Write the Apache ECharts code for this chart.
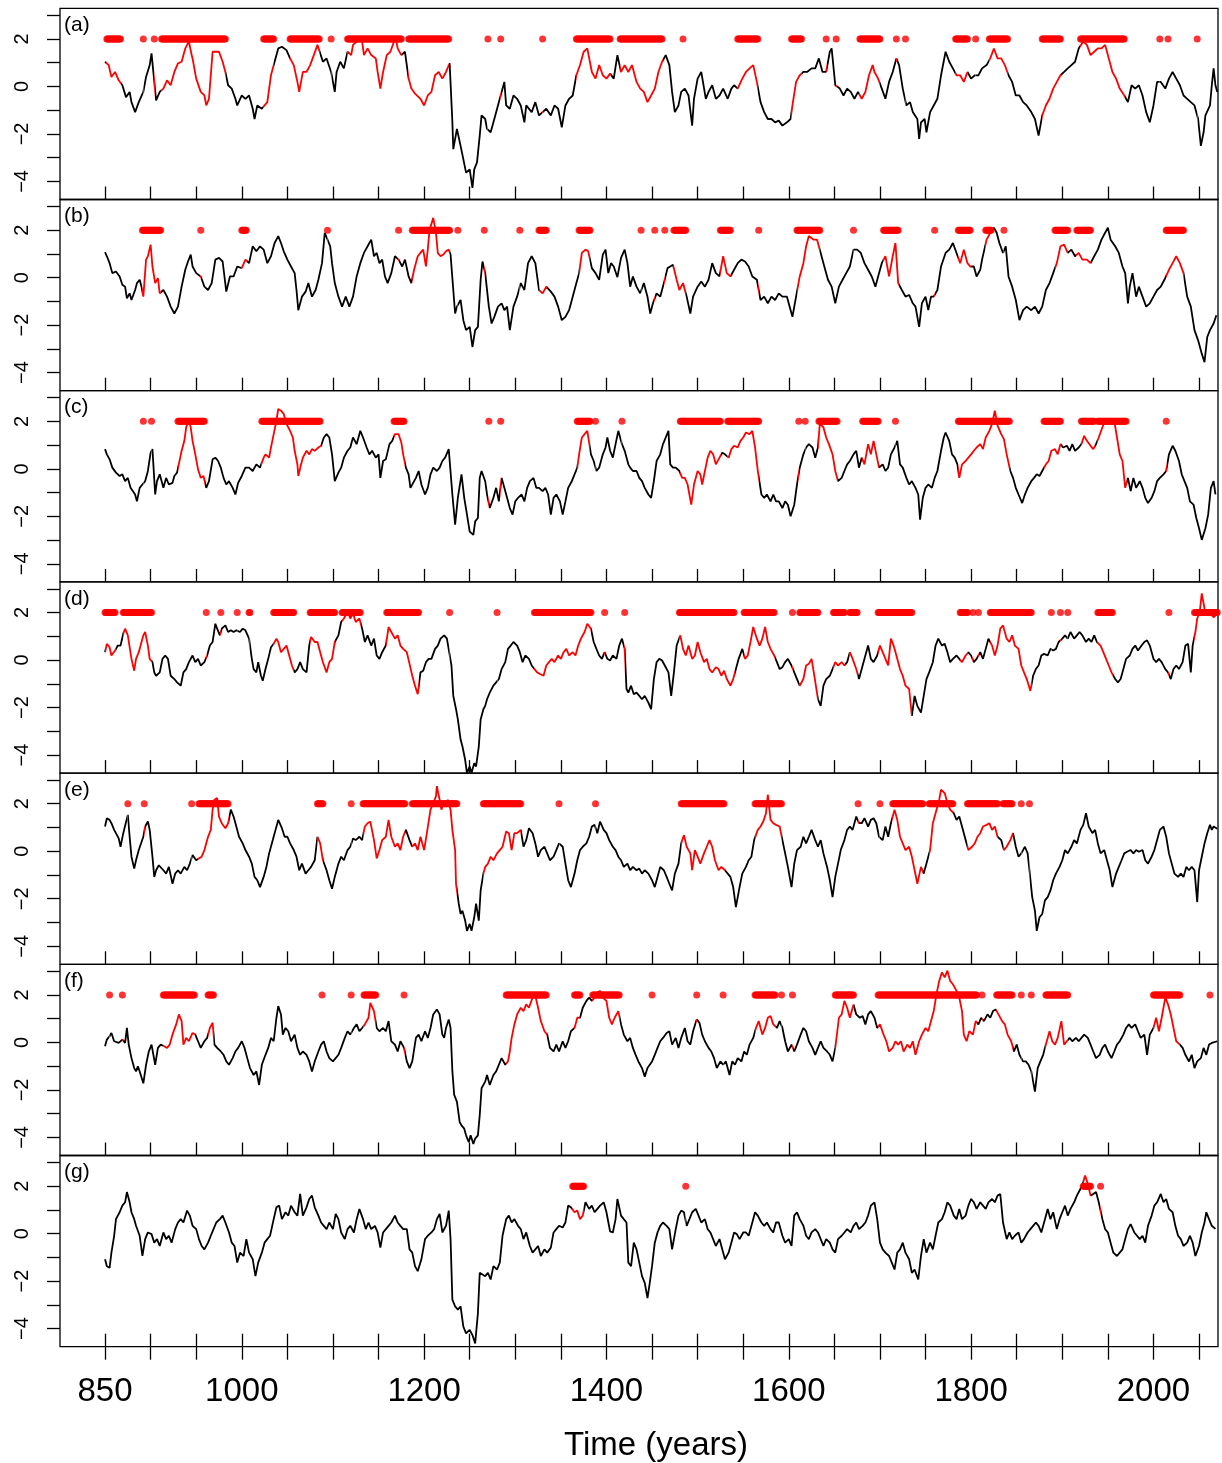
<!DOCTYPE html>
<html>
<head>
<meta charset="utf-8">
<script src="https://cdn.jsdelivr.net/npm/echarts@6/dist/echarts.min.js"></script>
<style>
  html, body { margin: 0; padding: 0; background: #fff; }
  #chart { width: 1222px; height: 1463px; }
</style>
</head>
<body>
<div id="chart"></div>
<script>
// x ticks / labels
var xTicks = [850, 900, 950, 1000, 1050, 1100, 1150, 1200, 1250, 1300, 1350, 1400, 1450, 1500, 1550, 1600, 1650, 1700, 1750, 1800, 1850, 1900, 1950, 2000, 2050];
var xLabels = [850, 1000, 1200, 1400, 1600, 1800, 2000];
var yTicks = [-4, -3, -2, -1, 0, 1, 2, 3];
var yLabels = [-4, -2, 0, 2];
var panelNames = ['(a)', '(b)', '(c)', '(d)', '(e)', '(f)', '(g)'];

// [year, value]
var seriesA = [[850,1.04],[854,0.9],[857,0.4],[861,0.61],[865,0.26],[869,0.05],[873,-0.45],[877,-0.23],[879,-0.66],[883,-1.08],[887,-0.66],[892,-0.23],[895,0.4],[899,0.9],[901,1.39],[903,0.61],[906,-0.59],[910,-0.23],[914,-0.09],[918,0.26],[922,0.05],[926,0.61],[930,0.97],[934,1.04],[938,1.6],[942,1.89],[945,1.32],[946,1.18],[950,0.33],[955,-0.23],[959,-0.38],[961,-0.8],[964,-0.52],[968,1.46],[971,1.46],[975,1.46],[979,1.04],[982,0.61],[985,0.05],[989,-0.09],[993,-0.52],[995,-0.8],[1000,-0.38],[1004,-0.52],[1008,-0.38],[1012,-0.94],[1014,-1.37],[1017,-0.8],[1022,-0.94],[1025,-0.8],[1028,-0.66],[1032,0.47],[1036,1.04],[1040,1.6],[1044,1.67],[1049,1.53],[1053,1.18],[1057,0.9],[1061,0.19],[1063,-0.23],[1067,0.61],[1071,0.61],[1075,0.9],[1079,1.32],[1083,1.75],[1085,1.75],[1089,1.04],[1093,1.18],[1098,0.61],[1102,-0.23],[1104,0.61],[1108,1.04],[1112,0.76],[1116,1.46],[1120,1.32],[1122,1.75],[1126,1.89],[1129,2.03],[1132,1.89],[1134,1.32],[1138,1.6],[1142,1.32],[1147,1.18],[1149,0.61],[1152,-0.09],[1155,0.61],[1159,1.32],[1163,1.46],[1167,1.89],[1169,2.03],[1171,1.6],[1175,1.32],[1179,1.46],[1183,0.33],[1186,-0.09],[1190,-0.3],[1196,-0.52],[1200,-0.8],[1204,-0.38],[1208,-0.23],[1212,0.47],[1216,0.61],[1220,0.33],[1224,0.61],[1228,0.97],[1231,-1.51],[1232,-2.64],[1236,-1.79],[1240,-2.5],[1243,-3.06],[1246,-3.63],[1250,-3.49],[1253,-4.27],[1255,-3.49],[1258,-3.2],[1261,-2.07],[1263,-1.22],[1267,-1.37],[1269,-1.79],[1273,-1.93],[1277,-1.37],[1281,-0.8],[1285,-0.23],[1288,0.19],[1290,-0.8],[1294,-0.94],[1298,-0.38],[1302,-0.52],[1306,-0.8],[1310,-1.51],[1312,-0.8],[1318,-1.08],[1322,-0.66],[1326,-1.22],[1330,-1.08],[1334,-0.94],[1339,-1.22],[1343,-0.8],[1347,-0.94],[1351,-1.72],[1355,-0.8],[1359,-0.52],[1363,-0.38],[1367,0.47],[1371,0.9],[1375,1.46],[1379,1.6],[1384,0.61],[1388,0.33],[1392,0.9],[1396,0.47],[1400,0.33],[1404,0.54],[1408,0.33],[1412,1.32],[1416,0.61],[1420,0.9],[1424,0.61],[1428,0.9],[1433,0.19],[1437,-0.09],[1441,-0.23],[1445,-0.66],[1449,-0.38],[1453,-0.09],[1457,0.61],[1461,1.04],[1465,1.32],[1469,0.9],[1472,-0.23],[1475,-1.08],[1479,-0.8],[1482,-0.23],[1486,-0.09],[1490,-0.38],[1494,-1.65],[1496,-0.52],[1500,0.33],[1504,0.61],[1509,-0.52],[1512,-0.23],[1516,0.05],[1520,-0.52],[1524,-0.38],[1528,-0.09],[1533,-0.52],[1537,-0.09],[1540,0.05],[1544,-0.09],[1549,0.33],[1553,0.61],[1557,0.76],[1561,0.9],[1565,0.19],[1569,-0.66],[1573,-1.08],[1577,-1.37],[1581,-1.37],[1585,-1.51],[1589,-1.44],[1593,-1.65],[1598,-1.51],[1602,-1.37],[1604,-0.8],[1608,0.19],[1612,0.47],[1616,0.61],[1620,0.61],[1625,0.76],[1629,0.76],[1633,1.18],[1637,0.61],[1641,0.61],[1645,1.46],[1647,1.6],[1651,0.05],[1656,-0.09],[1660,-0.38],[1664,-0.09],[1668,-0.23],[1672,-0.52],[1676,-0.23],[1680,-0.52],[1684,-0.23],[1688,0.47],[1692,0.9],[1694,0.61],[1698,0.33],[1702,-0.09],[1706,-0.52],[1710,0.19],[1714,0.61],[1718,1.18],[1721,0.9],[1725,-0.09],[1729,-0.8],[1733,-0.66],[1736,-1.08],[1741,-1.37],[1743,-2.21],[1745,-1.51],[1749,-1.37],[1751,-1.93],[1755,-1.08],[1759,-0.8],[1763,-0.52],[1767,0.47],[1772,1.46],[1776,1.04],[1780,0.76],[1784,0.47],[1788,0.47],[1792,0.19],[1796,0.61],[1800,0.33],[1804,0.47],[1808,0.47],[1812,0.76],[1817,0.9],[1821,1.18],[1825,1.6],[1829,1.18],[1833,1.18],[1837,0.9],[1841,0.47],[1845,0.19],[1849,-0.38],[1853,-0.38],[1857,-0.66],[1861,-0.8],[1866,-1.08],[1870,-1.37],[1874,-2.07],[1878,-1.22],[1882,-0.8],[1886,-0.52],[1890,-0.09],[1894,0.19],[1898,0.47],[1902,0.61],[1906,0.76],[1910,0.9],[1914,1.04],[1918,1.6],[1923,1.89],[1927,1.75],[1931,1.32],[1935,1.46],[1939,1.6],[1943,1.6],[1947,1.75],[1951,1.18],[1955,0.61],[1959,0.33],[1963,-0.09],[1968,-0.38],[1972,-0.66],[1976,0.05],[1980,-0.09],[1984,0.05],[1988,-0.38],[1992,-1.08],[1996,-1.51],[2000,-0.8],[2004,0.19],[2008,0.19],[2013,-0.09],[2017,0.33],[2021,0.61],[2025,0.33],[2029,0.05],[2033,-0.38],[2037,-0.52],[2041,-0.66],[2045,-0.8],[2049,-1.37],[2052,-2.5],[2055,-1.93],[2057,-1.22],[2062,-0.8],[2064,0.05],[2066,0.76],[2068,0.05],[2070,-0.23]];

var seriesB = [[850,1.07],[852,0.9],[855,0.61],[858,0.19],[862,0.26],[866,0.05],[869,-0.3],[872,-0.38],[874,-0.87],[877,-0.66],[879,-0.94],[883,-0.52],[885,-0.23],[888,-0.09],[890,-0.38],[892,-0.8],[895,0.76],[897,0.9],[900,1.39],[902,0.47],[905,-0.23],[908,-0.02],[910,-0.66],[914,-0.52],[918,-0.8],[922,-1.22],[926,-1.51],[930,-1.22],[934,-0.38],[938,0.33],[941,0.68],[944,0.97],[946,0.47],[950,0.19],[955,0.05],[959,-0.38],[963,-0.52],[967,-0.23],[971,0.76],[975,0.83],[979,0.68],[983,-0.59],[987,0.05],[991,0.05],[995,0.47],[1000,0.4],[1004,0.76],[1008,0.61],[1012,1.32],[1016,1.11],[1020,1.32],[1024,1.18],[1028,0.61],[1032,0.9],[1036,1.46],[1040,1.75],[1043,1.46],[1046,1.11],[1050,0.76],[1054,0.47],[1058,0.19],[1060,-0.52],[1062,-1.37],[1066,-0.8],[1070,-0.59],[1073,-0.23],[1077,-0.8],[1081,-0.52],[1084,-0.09],[1088,0.61],[1091,1.89],[1093,1.96],[1097,1.32],[1099,0.61],[1102,-0.23],[1106,-0.8],[1110,-1.22],[1114,-0.8],[1118,-1.22],[1122,-0.8],[1126,0.05],[1130,0.61],[1134,1.04],[1138,1.32],[1142,1.6],[1145,0.9],[1148,1.04],[1151,0.61],[1154,0.76],[1157,0.05],[1160,-0.23],[1164,0.19],[1168,0.9],[1172,0.76],[1176,0.47],[1179,0.76],[1183,0.05],[1186,-0.23],[1189,0.33],[1193,0.9],[1196,1.04],[1199,1.18],[1202,0.47],[1204,1.18],[1206,2.03],[1209,2.38],[1210,2.52],[1213,1.89],[1215,1.04],[1218,0.9],[1221,0.97],[1224,1.11],[1227,1.18],[1229,0.97],[1232,-0.52],[1234,-1.51],[1236,-1.22],[1240,-0.94],[1243,-1.79],[1246,-2.21],[1250,-2.07],[1253,-2.92],[1256,-2.21],[1259,-2.07],[1262,-0.09],[1264,0.68],[1267,0.19],[1271,-1.22],[1274,-1.93],[1277,-1.65],[1281,-1.22],[1285,-1.08],[1288,-1.37],[1291,-1.22],[1294,-2.21],[1298,-1.22],[1302,-0.8],[1306,-0.23],[1310,-0.52],[1314,0.61],[1318,0.9],[1322,0.61],[1326,-0.52],[1330,-0.66],[1334,-0.38],[1339,-0.59],[1343,-0.8],[1347,-1.22],[1351,-1.79],[1355,-1.65],[1359,-1.37],[1363,-0.8],[1367,-0.23],[1370,0.19],[1373,1.04],[1377,1.18],[1380,1.11],[1384,0.4],[1388,0.19],[1392,-0.09],[1396,0.97],[1399,1.18],[1402,0.19],[1405,0.61],[1408,0.47],[1412,0.02],[1416,0.83],[1420,1.18],[1423,0.61],[1426,-0.38],[1429,0.05],[1433,-0.38],[1437,-0.66],[1441,-0.23],[1445,-0.8],[1448,-1.51],[1451,-1.08],[1455,-0.66],[1459,-0.8],[1463,-0.23],[1467,0.4],[1470,0.47],[1473,0.54],[1477,-0.09],[1480,-0.52],[1484,-0.23],[1488,-0.8],[1492,-1.51],[1495,-0.8],[1500,-0.38],[1504,-0.16],[1508,-0.38],[1512,-0.09],[1516,0.61],[1520,0.19],[1524,0.05],[1528,0.9],[1532,0.19],[1536,0.05],[1540,0.33],[1544,0.61],[1548,0.76],[1552,0.68],[1556,0.47],[1560,0.05],[1565,-0.09],[1569,-0.94],[1573,-0.8],[1577,-1.08],[1581,-0.8],[1585,-0.94],[1589,-0.66],[1593,-0.8],[1598,-0.8],[1602,-1.37],[1604,-1.65],[1608,-0.8],[1612,0.05],[1616,0.61],[1619,1.32],[1622,1.75],[1627,1.6],[1631,1.6],[1635,1.04],[1638,0.61],[1643,-0.09],[1647,-0.38],[1651,-1.08],[1655,-0.38],[1659,-0.09],[1663,0.19],[1667,0.47],[1671,1.18],[1675,1.18],[1679,1.04],[1683,0.61],[1687,0.33],[1691,0.05],[1695,-0.38],[1698,0.05],[1702,0.61],[1706,0.9],[1710,0.05],[1714,0.9],[1717,1.46],[1720,-0.23],[1724,-0.52],[1728,-0.8],[1732,-0.73],[1736,-1.08],[1739,-1.22],[1743,-2.07],[1746,-1.08],[1750,-0.8],[1753,-1.37],[1756,-0.8],[1759,-0.8],[1763,-0.52],[1767,0.47],[1772,1.04],[1776,1.18],[1780,1.46],[1784,1.04],[1788,0.61],[1792,1.18],[1796,0.61],[1799,0.47],[1803,0.47],[1806,0.05],[1810,0.33],[1812,0.76],[1817,1.6],[1821,1.89],[1825,2.1],[1828,1.89],[1831,1.46],[1835,1.04],[1838,1.32],[1841,0.05],[1845,-0.38],[1849,-0.94],[1853,-1.79],[1857,-1.37],[1861,-1.22],[1866,-1.37],[1870,-1.22],[1874,-1.51],[1878,-1.22],[1882,-0.52],[1886,-0.23],[1890,0.19],[1894,0.61],[1898,1.32],[1902,1.39],[1906,1.04],[1910,1.18],[1914,0.9],[1918,1.04],[1922,0.76],[1927,0.76],[1931,0.61],[1935,0.9],[1939,1.18],[1943,1.6],[1947,1.89],[1950,2.1],[1953,1.6],[1958,1.32],[1962,1.04],[1966,0.47],[1969,0.19],[1972,-1.08],[1974,-0.38],[1977,0.19],[1981,-0.8],[1984,-0.38],[1988,-0.8],[1992,-1.22],[1996,-1.08],[2000,-0.8],[2004,-0.52],[2008,-0.38],[2012,-0.09],[2017,0.33],[2021,0.61],[2025,0.9],[2029,0.61],[2033,0.19],[2037,-0.8],[2041,-1.22],[2045,-2.21],[2049,-2.64],[2053,-3.2],[2056,-3.56],[2059,-2.5],[2062,-2.21],[2066,-1.93],[2069,-1.58]];

var seriesC = [[850,0.83],[852,0.61],[855,0.4],[858,0.05],[862,-0.16],[866,-0.3],[869,-0.23],[872,-0.52],[875,-0.38],[878,-0.8],[880,-0.8],[883,-1.08],[885,-1.37],[888,-0.8],[891,-0.66],[894,-0.52],[897,-0.09],[900,0.68],[902,0.83],[905,-1.08],[907,-0.52],[910,-0.23],[914,-0.8],[917,-0.38],[920,-0.66],[924,-0.59],[926,-0.3],[929,-0.16],[931,-0.09],[934,0.76],[937,1.18],[939,1.75],[942,2.03],[944,1.75],[946,1.18],[949,0.61],[952,-0.02],[955,-0.38],[958,-0.3],[961,-0.8],[964,-0.52],[968,0.4],[971,0.47],[974,0.33],[977,0.05],[980,-0.38],[983,-0.66],[986,-0.52],[990,-0.8],[993,-1.08],[996,-0.59],[1000,-0.3],[1004,0.05],[1008,0.05],[1012,-0.09],[1016,0.19],[1020,0.05],[1024,0.47],[1026,0.61],[1030,0.47],[1032,0.9],[1035,1.46],[1038,2.03],[1040,2.52],[1043,2.45],[1046,2.31],[1049,1.89],[1053,1.6],[1056,1.32],[1058,0.76],[1061,0.19],[1062,-0.3],[1065,0.19],[1067,0.47],[1071,0.76],[1074,0.61],[1077,0.83],[1080,0.76],[1084,0.9],[1087,0.97],[1090,1.32],[1093,1.46],[1096,1.32],[1099,0.61],[1102,-0.52],[1106,-0.16],[1109,0.05],[1112,0.47],[1116,0.76],[1119,0.9],[1122,1.32],[1126,1.04],[1130,1.6],[1133,1.32],[1137,0.9],[1140,0.61],[1143,0.76],[1147,0.47],[1150,0.61],[1152,-0.38],[1155,0.33],[1158,0.4],[1162,1.04],[1165,1.18],[1168,1.46],[1172,1.46],[1175,1.11],[1177,0.61],[1180,0.05],[1183,-0.23],[1185,-0.8],[1188,-0.59],[1191,-0.38],[1194,-0.09],[1197,-0.66],[1201,-1.08],[1204,-0.8],[1207,-0.23],[1210,0.05],[1214,-0.09],[1217,0.05],[1220,0.33],[1223,0.47],[1227,0.83],[1228,0.9],[1231,-1.08],[1234,-2.35],[1237,-1.22],[1241,-0.23],[1244,-1.22],[1247,-1.93],[1250,-2.64],[1254,-2.78],[1256,-2.21],[1259,-2.07],[1261,-0.38],[1263,-0.09],[1267,-0.52],[1269,-1.08],[1272,-1.65],[1276,-1.22],[1279,-0.8],[1282,-1.37],[1285,-0.38],[1288,-0.8],[1291,-1.22],[1294,-1.65],[1297,-1.93],[1300,-1.37],[1303,-1.22],[1307,-1.08],[1310,-1.37],[1313,-0.8],[1316,-0.52],[1320,-0.38],[1323,-0.8],[1326,-0.8],[1330,-0.94],[1333,-0.8],[1336,-1.08],[1339,-1.93],[1342,-1.22],[1345,-1.08],[1349,-1.37],[1352,-1.93],[1355,-1.37],[1358,-0.8],[1362,-0.52],[1365,-0.23],[1368,0.05],[1370,0.61],[1373,1.32],[1376,1.46],[1379,1.6],[1383,0.61],[1386,0.33],[1389,-0.09],[1392,0.05],[1396,0.61],[1399,0.9],[1401,1.32],[1404,0.76],[1407,0.47],[1410,1.04],[1413,1.6],[1417,1.04],[1420,0.76],[1424,0.19],[1426,0.05],[1429,-0.09],[1433,-0.09],[1436,-0.38],[1439,-0.52],[1442,-0.8],[1446,-1.08],[1449,-1.22],[1452,-0.52],[1455,0.33],[1459,0.61],[1462,1.04],[1465,1.32],[1468,1.6],[1470,0.19],[1473,0.05],[1476,0.05],[1480,-0.09],[1483,-0.38],[1486,-0.38],[1489,-0.66],[1493,-1.51],[1496,-0.66],[1500,-0.09],[1503,-0.23],[1505,-0.66],[1508,-0.09],[1511,0.47],[1514,0.76],[1517,0.61],[1520,0.19],[1524,0.47],[1527,0.68],[1530,0.61],[1534,0.47],[1537,0.83],[1540,0.97],[1544,0.9],[1547,1.18],[1550,1.32],[1553,1.53],[1557,1.46],[1560,1.6],[1563,0.9],[1566,-0.09],[1570,-1.08],[1573,-1.22],[1576,-1.08],[1580,-1.37],[1583,-1.08],[1586,-1.37],[1589,-1.37],[1593,-1.65],[1596,-1.37],[1599,-1.51],[1602,-2.0],[1606,-1.51],[1609,-0.66],[1612,0.05],[1616,0.61],[1619,0.9],[1622,1.04],[1626,0.9],[1629,0.47],[1632,0.9],[1634,1.89],[1638,1.75],[1641,1.32],[1644,1.04],[1648,0.61],[1651,-0.09],[1654,-0.52],[1658,-0.38],[1661,-0.09],[1664,0.19],[1667,0.33],[1671,0.61],[1674,0.76],[1677,0.05],[1680,0.47],[1683,0.19],[1687,1.04],[1690,0.61],[1693,1.18],[1696,0.61],[1699,0.05],[1703,0.19],[1706,-0.09],[1709,0.05],[1712,0.61],[1716,0.9],[1719,1.18],[1722,0.19],[1725,0.05],[1729,-0.38],[1732,-0.66],[1735,-0.52],[1739,-0.8],[1742,-1.08],[1744,-2.14],[1747,-1.22],[1750,-0.8],[1753,-0.66],[1757,-0.8],[1760,-0.38],[1763,-0.09],[1767,0.76],[1770,1.32],[1772,1.53],[1776,1.18],[1779,0.61],[1782,0.47],[1785,0.19],[1787,-0.38],[1790,0.19],[1794,0.33],[1797,0.47],[1800,0.61],[1803,0.76],[1806,0.9],[1810,1.04],[1813,0.83],[1816,1.32],[1820,1.6],[1823,1.89],[1826,2.45],[1829,1.82],[1833,1.46],[1836,1.25],[1839,0.61],[1843,-0.09],[1846,-0.38],[1849,-0.8],[1852,-1.08],[1856,-1.44],[1859,-1.08],[1862,-0.8],[1866,-0.52],[1869,-0.38],[1872,-0.23],[1875,-0.3],[1878,-0.09],[1882,0.19],[1885,0.33],[1888,0.76],[1892,0.83],[1895,0.61],[1898,1.04],[1901,0.9],[1905,0.97],[1908,0.76],[1911,1.04],[1914,0.76],[1918,0.9],[1921,1.04],[1924,1.39],[1927,1.18],[1931,0.97],[1934,0.83],[1937,1.04],[1940,1.32],[1944,1.75],[1947,2.03],[1950,2.1],[1953,1.89],[1957,2.03],[1960,1.32],[1963,0.61],[1966,0.33],[1969,-0.8],[1972,-0.38],[1975,-0.94],[1978,-0.38],[1981,-0.8],[1985,-0.52],[1988,-0.8],[1991,-1.22],[1994,-1.44],[1998,-1.22],[2001,-0.94],[2004,-0.52],[2007,-0.38],[2011,-0.23],[2014,-0.09],[2017,0.61],[2021,0.97],[2024,0.76],[2028,0.33],[2031,-0.23],[2034,-0.52],[2037,-0.8],[2040,-1.37],[2044,-1.51],[2047,-2.07],[2050,-2.5],[2053,-2.99],[2057,-2.5],[2060,-1.93],[2063,-0.8],[2066,-0.52],[2068,-1.08]];

var seriesD = [[850,0.33],[852,0.68],[855,0.54],[857,0.19],[861,0.4],[864,0.61],[867,0.61],[870,1.11],[872,1.32],[875,1.04],[877,0.97],[879,0.05],[882,-0.45],[884,0.05],[887,0.33],[889,0.61],[892,1.04],[894,1.18],[897,0.61],[899,0.05],[902,-0.09],[904,-0.52],[906,-0.66],[910,-0.52],[913,0.05],[916,0.19],[919,0.05],[922,-0.66],[926,-0.8],[929,-0.94],[933,-1.08],[936,-0.52],[939,-0.38],[942,-0.09],[946,0.19],[949,-0.09],[952,0.05],[955,-0.23],[959,-0.09],[962,0.19],[965,0.61],[968,0.76],[971,1.53],[973,1.32],[976,1.04],[978,1.32],[982,1.46],[985,1.18],[988,1.25],[991,1.18],[994,1.25],[998,1.18],[1001,1.32],[1004,1.25],[1008,0.9],[1011,0.05],[1013,-0.38],[1016,-0.52],[1018,-0.09],[1021,-0.66],[1023,-0.87],[1026,-0.38],[1029,0.05],[1032,0.54],[1035,0.68],[1038,0.9],[1040,0.76],[1043,0.33],[1046,0.47],[1049,0.61],[1053,0.05],[1055,-0.23],[1058,-0.52],[1061,-0.38],[1064,-0.09],[1067,-0.38],[1071,-0.52],[1074,0.61],[1076,0.97],[1080,0.76],[1083,0.76],[1086,0.33],[1089,-0.09],[1093,-0.52],[1096,-0.09],[1099,0.05],[1102,0.76],[1106,1.04],[1109,1.6],[1112,1.75],[1116,2.03],[1119,1.75],[1122,1.96],[1125,1.6],[1129,1.75],[1132,1.32],[1135,0.76],[1138,1.04],[1142,0.61],[1145,0.9],[1148,0.19],[1151,0.05],[1154,0.33],[1158,0.61],[1161,1.39],[1164,1.18],[1168,0.9],[1171,1.04],[1174,0.61],[1177,0.47],[1181,0.33],[1184,-0.16],[1187,-0.66],[1190,-1.08],[1193,-1.44],[1196,-0.52],[1199,-0.45],[1202,-0.09],[1205,0.05],[1208,0.05],[1212,0.47],[1215,0.61],[1218,0.9],[1222,1.04],[1225,0.9],[1227,0.97],[1230,-0.23],[1232,-1.51],[1235,-2.07],[1237,-2.5],[1240,-3.35],[1242,-3.63],[1245,-4.2],[1247,-4.76],[1250,-4.48],[1252,-4.76],[1255,-4.34],[1257,-4.48],[1260,-3.63],[1262,-2.5],[1265,-2.07],[1267,-1.93],[1269,-1.65],[1272,-1.37],[1276,-1.08],[1279,-0.94],[1282,-0.8],[1285,-0.38],[1289,-0.09],[1292,0.47],[1295,0.61],[1298,0.76],[1302,0.61],[1305,0.33],[1308,-0.09],[1311,0.19],[1315,0.05],[1318,-0.23],[1321,-0.38],[1324,-0.52],[1327,-0.59],[1331,-0.66],[1334,-0.23],[1337,-0.09],[1340,0.05],[1343,-0.09],[1347,0.19],[1350,0.05],[1353,0.33],[1356,0.47],[1359,0.19],[1363,0.33],[1366,0.19],[1369,0.61],[1372,0.9],[1376,1.18],[1379,1.53],[1383,1.32],[1386,0.76],[1389,0.47],[1392,0.19],[1395,0.05],[1398,0.33],[1401,0.05],[1404,-0.02],[1407,0.19],[1411,0.05],[1414,0.61],[1417,0.9],[1420,0.47],[1422,-1.22],[1424,-1.37],[1427,-1.08],[1430,-1.44],[1433,-1.37],[1436,-1.51],[1439,-1.65],[1442,-1.51],[1446,-1.79],[1449,-2.07],[1452,-0.8],[1455,-0.09],[1458,0.05],[1461,-0.02],[1464,-0.23],[1468,-0.52],[1471,-1.51],[1474,-0.52],[1477,0.61],[1481,1.04],[1484,0.47],[1487,0.19],[1490,0.61],[1494,0.05],[1497,0.19],[1500,0.76],[1503,0.33],[1507,-0.09],[1510,0.05],[1513,-0.38],[1516,-0.52],[1520,-0.3],[1523,-0.38],[1526,-0.66],[1529,-0.45],[1532,-0.8],[1536,-1.08],[1539,-0.8],[1542,-0.38],[1545,0.05],[1549,0.47],[1552,0.05],[1555,0.19],[1558,0.76],[1561,1.39],[1565,0.9],[1568,0.61],[1571,0.9],[1574,1.39],[1577,0.76],[1580,0.47],[1584,0.19],[1587,-0.09],[1590,-0.38],[1593,-0.3],[1596,-0.09],[1599,0.05],[1603,-0.23],[1606,-0.52],[1609,-0.8],[1612,-1.08],[1616,-0.8],[1619,-0.23],[1622,-0.16],[1625,0.05],[1628,-0.66],[1632,-1.65],[1635,-1.93],[1638,-1.08],[1641,-0.8],[1645,-0.66],[1648,-0.38],[1651,-0.09],[1654,-0.23],[1658,-0.09],[1661,-0.23],[1664,-0.09],[1667,0.33],[1670,0.05],[1674,-0.38],[1677,-0.8],[1681,-0.23],[1684,0.19],[1687,0.61],[1690,0.05],[1693,-0.09],[1697,0.19],[1700,0.61],[1703,0.33],[1706,0.05],[1709,-0.23],[1712,0.9],[1715,0.61],[1719,0.05],[1722,-0.38],[1725,-0.66],[1728,-1.08],[1732,-1.22],[1735,-2.35],[1738,-1.51],[1741,-1.93],[1745,-2.21],[1748,-1.51],[1751,-0.8],[1754,-0.52],[1758,-0.09],[1761,0.61],[1764,0.9],[1768,0.61],[1771,0.68],[1774,0.33],[1777,-0.09],[1780,0.05],[1784,0.19],[1787,0.05],[1790,-0.09],[1794,0.19],[1797,0.33],[1800,0.19],[1803,-0.09],[1806,0.05],[1810,0.33],[1813,0.05],[1816,0.47],[1819,0.9],[1823,0.61],[1826,0.19],[1829,0.61],[1832,1.32],[1835,1.46],[1839,0.9],[1842,0.76],[1845,1.04],[1848,0.61],[1852,0.47],[1855,-0.23],[1858,-0.52],[1861,-0.8],[1865,-1.3],[1868,-0.66],[1871,-0.38],[1874,-0.23],[1877,0.19],[1880,0.26],[1884,0.19],[1887,0.47],[1890,0.4],[1893,0.47],[1896,0.76],[1900,0.9],[1903,1.04],[1906,0.9],[1909,1.18],[1913,0.9],[1916,1.04],[1919,1.18],[1922,1.04],[1926,0.76],[1929,0.9],[1932,0.76],[1935,1.04],[1938,0.76],[1942,0.61],[1945,0.33],[1948,0.05],[1951,-0.23],[1954,-0.52],[1958,-0.8],[1961,-0.94],[1964,-0.8],[1967,-0.38],[1970,0.05],[1974,0.19],[1977,0.47],[1980,0.61],[1983,0.4],[1987,0.61],[1990,0.76],[1993,0.83],[1996,0.61],[2000,0.05],[2003,-0.09],[2006,0.05],[2009,-0.09],[2013,-0.38],[2016,-0.52],[2019,-0.8],[2022,-0.38],[2025,-0.23],[2028,-0.38],[2032,-0.09],[2035,0.61],[2038,0.68],[2041,-0.52],[2043,0.61],[2046,1.18],[2048,1.75],[2051,2.1],[2053,2.81],[2056,2.17],[2059,1.89],[2061,2.03],[2066,1.8],[2070,1.95]];

var seriesE = [[850,1.04],[852,1.39],[855,1.32],[857,1.18],[860,0.9],[862,0.97],[865,0.54],[867,0.19],[870,0.76],[872,0.83],[875,1.53],[877,0.61],[879,-0.23],[882,-0.73],[884,-0.38],[887,0.05],[889,0.05],[892,0.61],[894,1.04],[897,1.25],[899,0.9],[902,-0.23],[904,-1.08],[906,-0.8],[909,-0.59],[911,-0.66],[914,-0.8],[917,-0.94],[920,-0.66],[924,-1.37],[927,-0.94],[930,-0.8],[933,-0.94],[937,-0.66],[940,-0.8],[943,-0.52],[946,-0.16],[950,-0.38],[953,-0.3],[956,-0.23],[959,0.05],[963,0.61],[966,0.9],[968,1.75],[970,2.17],[973,2.24],[975,1.46],[978,1.18],[982,0.97],[985,1.18],[988,1.75],[991,1.46],[994,1.04],[997,0.61],[1001,0.33],[1004,0.05],[1008,-0.23],[1011,-0.52],[1014,-1.08],[1017,-1.22],[1020,-1.51],[1024,-1.08],[1027,-0.66],[1030,-0.09],[1034,0.47],[1037,0.9],[1040,1.32],[1044,0.97],[1047,0.61],[1050,0.61],[1053,0.33],[1057,0.05],[1060,-0.23],[1063,-0.8],[1066,-0.52],[1070,-0.94],[1073,-0.8],[1076,-0.66],[1080,-0.38],[1083,0.61],[1086,0.33],[1089,-0.38],[1093,-0.8],[1096,-1.22],[1099,-1.58],[1102,-1.08],[1106,-0.52],[1109,-0.23],[1112,-0.38],[1116,0.05],[1119,0.19],[1122,0.54],[1125,0.47],[1129,0.61],[1132,0.47],[1135,1.04],[1138,1.18],[1141,1.25],[1145,0.47],[1148,-0.3],[1151,0.05],[1154,0.47],[1158,0.61],[1161,1.32],[1164,0.61],[1168,0.19],[1171,0.33],[1174,0.05],[1177,0.61],[1180,0.9],[1184,0.47],[1187,0.19],[1190,0.33],[1193,0.05],[1196,0.61],[1200,0.05],[1203,0.76],[1207,1.75],[1210,2.03],[1213,2.31],[1214,2.74],[1217,2.17],[1219,1.75],[1221,2.03],[1224,1.89],[1226,2.17],[1229,1.75],[1231,0.9],[1234,0.05],[1235,-1.37],[1238,-2.21],[1240,-2.64],[1242,-2.5],[1245,-2.92],[1247,-3.35],[1250,-3.06],[1252,-3.35],[1255,-2.78],[1257,-2.21],[1260,-2.92],[1262,-1.65],[1265,-0.94],[1267,-0.66],[1270,-0.52],[1273,-0.23],[1276,-0.38],[1280,-0.09],[1283,0.05],[1286,0.19],[1290,0.83],[1293,0.76],[1296,0.05],[1299,0.76],[1302,0.76],[1306,0.9],[1309,0.19],[1312,0.47],[1315,0.97],[1319,0.76],[1322,0.33],[1325,-0.23],[1328,0.05],[1332,0.19],[1335,-0.09],[1338,-0.38],[1342,-0.23],[1345,0.05],[1348,0.33],[1352,0.19],[1355,-0.52],[1358,-1.22],[1361,-1.51],[1365,-0.94],[1368,-0.38],[1371,0.05],[1374,0.19],[1378,0.33],[1381,0.61],[1384,1.04],[1387,1.11],[1390,0.76],[1393,1.25],[1397,0.9],[1400,0.76],[1403,0.47],[1407,0.19],[1410,0.05],[1413,-0.23],[1416,-0.38],[1419,-0.66],[1423,-0.52],[1426,-0.8],[1429,-0.66],[1433,-0.8],[1436,-0.73],[1439,-0.94],[1442,-0.8],[1446,-0.94],[1450,-1.22],[1453,-1.51],[1456,-1.08],[1459,-0.66],[1463,-0.8],[1466,-1.08],[1469,-1.37],[1472,-1.65],[1475,-0.94],[1479,-0.52],[1482,0.33],[1485,0.68],[1488,0.19],[1492,-0.09],[1494,-0.8],[1497,0.05],[1500,-0.23],[1503,-0.52],[1507,-0.09],[1510,0.19],[1513,0.47],[1516,0.19],[1519,-0.38],[1523,-0.8],[1526,-0.66],[1530,-0.8],[1533,-0.94],[1536,-1.08],[1539,-1.51],[1542,-2.35],[1546,-1.51],[1549,-0.94],[1553,-0.66],[1556,-0.38],[1559,-0.23],[1562,0.47],[1566,0.9],[1569,1.04],[1572,1.25],[1575,1.6],[1577,2.38],[1580,1.32],[1583,1.18],[1586,1.11],[1590,1.04],[1593,0.47],[1596,-0.09],[1599,-0.66],[1603,-1.51],[1606,-0.52],[1609,0.05],[1613,0.19],[1616,0.61],[1619,0.33],[1622,0.61],[1625,0.9],[1629,0.47],[1632,0.19],[1635,0.47],[1638,-0.09],[1642,-0.66],[1645,-1.22],[1648,-1.93],[1651,-1.08],[1654,-0.52],[1657,0.05],[1661,0.47],[1664,0.9],[1667,1.04],[1670,0.9],[1674,1.46],[1677,1.18],[1680,1.18],[1683,1.39],[1687,1.04],[1690,1.32],[1693,1.39],[1696,1.18],[1699,0.61],[1703,0.47],[1706,1.04],[1709,0.61],[1712,1.18],[1716,1.75],[1719,1.32],[1722,0.61],[1725,0.33],[1728,0.05],[1732,0.19],[1735,-0.23],[1738,-0.8],[1741,-1.37],[1745,-0.66],[1748,-0.94],[1751,-0.52],[1755,0.05],[1758,1.18],[1761,1.6],[1765,2.17],[1767,2.59],[1771,2.45],[1774,2.03],[1777,1.75],[1781,1.6],[1784,1.32],[1787,1.46],[1790,1.04],[1794,0.47],[1797,0.05],[1801,0.19],[1804,0.33],[1807,0.61],[1810,0.76],[1813,1.04],[1817,1.11],[1820,1.18],[1823,0.9],[1826,1.04],[1829,0.61],[1833,0.47],[1836,0.05],[1839,0.19],[1843,0.47],[1846,0.76],[1849,0.19],[1852,-0.23],[1855,-0.09],[1859,0.19],[1862,-0.09],[1864,-0.8],[1867,-1.93],[1870,-2.5],[1872,-3.35],[1875,-2.78],[1878,-2.64],[1881,-2.07],[1884,-1.93],[1887,-1.65],[1890,-1.22],[1893,-0.94],[1897,-0.66],[1900,-0.38],[1903,0.05],[1906,-0.09],[1910,0.19],[1913,0.47],[1916,0.33],[1920,0.9],[1923,1.11],[1926,1.6],[1929,1.04],[1933,0.76],[1936,0.9],[1939,0.33],[1942,-0.09],[1946,0.05],[1949,-0.38],[1952,-0.8],[1955,-1.51],[1959,-0.94],[1962,-0.66],[1965,-0.38],[1968,-0.09],[1971,-0.02],[1975,0.05],[1978,-0.09],[1981,0.05],[1984,-0.02],[1988,0.05],[1991,-0.38],[1994,-0.52],[1998,-0.23],[2001,0.05],[2004,0.47],[2007,0.9],[2011,1.04],[2014,0.61],[2017,-0.09],[2020,-0.52],[2023,-0.94],[2027,-1.08],[2030,-0.94],[2033,-1.08],[2036,-0.66],[2039,-0.8],[2042,-0.66],[2045,-0.8],[2048,-2.14],[2050,-0.8],[2053,-0.23],[2056,0.33],[2059,0.76],[2062,1.11],[2064,0.9],[2066,1.04],[2070,0.95]];

var seriesF = [[850,-0.16],[852,0.12],[855,0.26],[857,0.4],[860,0.05],[862,0.12],[865,-0.02],[869,0.12],[872,-0.02],[874,0.61],[876,-0.09],[879,-0.66],[882,-1.08],[884,-1.22],[886,-1.01],[888,-1.22],[892,-1.72],[895,-0.94],[898,-0.38],[901,-0.09],[905,-0.94],[908,-0.23],[911,-0.09],[915,-0.16],[918,-0.23],[921,-0.09],[924,0.33],[928,0.76],[931,1.18],[934,0.9],[936,-0.09],[939,0.19],[942,0.05],[946,0.4],[949,0.33],[952,0.05],[955,-0.23],[959,0.05],[962,0.19],[965,0.61],[968,0.83],[970,-0.09],[973,-0.23],[977,-0.38],[980,-0.52],[983,-0.8],[986,-0.94],[990,-0.66],[993,-0.38],[996,-0.23],[1000,0.05],[1003,-0.23],[1006,-0.66],[1009,-1.08],[1013,-1.37],[1016,-1.22],[1019,-1.79],[1022,-0.94],[1026,-0.52],[1029,-0.23],[1032,0.19],[1035,0.05],[1038,1.04],[1040,1.53],[1043,1.18],[1045,0.33],[1048,0.61],[1051,0.47],[1054,0.05],[1058,0.33],[1061,-0.23],[1064,-0.52],[1067,-0.38],[1071,-0.52],[1074,-0.8],[1077,-1.22],[1080,-0.8],[1084,-0.38],[1087,-0.09],[1090,0.05],[1093,-0.38],[1096,-0.66],[1100,-0.8],[1103,-0.66],[1106,-0.52],[1109,-0.23],[1113,0.19],[1116,0.47],[1119,0.33],[1123,0.61],[1126,0.76],[1129,0.47],[1132,0.61],[1135,0.76],[1139,1.04],[1141,1.67],[1145,1.32],[1148,0.61],[1151,0.47],[1155,0.61],[1158,0.47],[1161,0.9],[1164,0.05],[1168,-0.09],[1171,-0.38],[1174,0.05],[1178,-0.23],[1181,-0.8],[1184,-1.08],[1187,-0.8],[1191,0.19],[1194,0.33],[1197,0.05],[1201,0.47],[1204,0.19],[1207,0.61],[1210,1.18],[1214,1.39],[1217,1.18],[1220,0.33],[1222,0.19],[1224,0.61],[1227,0.97],[1229,0.61],[1231,-1.22],[1233,-2.21],[1236,-2.5],[1239,-3.35],[1241,-3.49],[1244,-3.63],[1246,-3.91],[1249,-4.2],[1251,-3.91],[1254,-4.27],[1256,-4.05],[1259,-3.91],[1261,-3.06],[1263,-1.93],[1267,-1.65],[1269,-1.37],[1272,-1.79],[1276,-1.37],[1279,-1.22],[1282,-0.94],[1285,-0.66],[1289,-0.94],[1292,-0.8],[1294,-0.38],[1296,0.19],[1299,0.76],[1302,1.18],[1306,1.46],[1309,1.32],[1312,1.6],[1315,1.46],[1319,1.89],[1322,1.96],[1325,1.46],[1328,0.9],[1332,0.47],[1335,0.33],[1338,-0.23],[1342,-0.38],[1345,-0.09],[1348,-0.38],[1352,0.05],[1355,-0.23],[1358,0.05],[1361,0.47],[1365,0.61],[1368,1.04],[1371,1.04],[1374,1.46],[1378,1.75],[1381,1.89],[1384,1.75],[1387,1.89],[1390,2.1],[1393,2.17],[1396,1.89],[1400,1.75],[1403,1.04],[1406,0.76],[1409,1.04],[1413,1.32],[1416,0.76],[1419,0.33],[1423,0.05],[1426,0.19],[1429,-0.23],[1432,-0.52],[1435,-0.8],[1439,-1.08],[1442,-1.44],[1445,-1.08],[1450,-0.8],[1453,-0.52],[1456,-0.23],[1459,0.05],[1462,0.19],[1466,0.4],[1469,0.47],[1472,-0.09],[1476,0.19],[1479,-0.23],[1482,0.19],[1486,0.61],[1489,0.05],[1492,-0.09],[1495,0.47],[1499,0.97],[1502,0.83],[1505,0.33],[1508,0.05],[1512,-0.23],[1515,-0.38],[1518,-0.66],[1521,-1.08],[1525,-0.8],[1528,-0.94],[1531,-0.8],[1535,-1.37],[1538,-0.8],[1541,-0.94],[1544,-0.66],[1548,-0.8],[1551,-0.38],[1554,-0.52],[1557,-0.09],[1561,0.19],[1564,0.61],[1567,0.9],[1571,0.33],[1574,0.61],[1577,1.04],[1580,1.11],[1583,0.76],[1587,0.61],[1590,0.9],[1593,0.61],[1596,0.05],[1599,-0.38],[1603,-0.09],[1606,-0.38],[1609,-0.09],[1613,0.33],[1616,0.61],[1619,0.47],[1622,0.05],[1626,-0.23],[1629,-0.52],[1632,-0.23],[1635,0.05],[1638,-0.23],[1642,-0.38],[1645,-0.52],[1648,-0.8],[1651,-0.23],[1655,1.04],[1658,1.18],[1661,1.75],[1664,1.46],[1667,1.04],[1671,1.6],[1674,1.18],[1678,1.04],[1681,1.11],[1684,0.76],[1687,1.18],[1690,1.32],[1694,1.04],[1697,0.61],[1700,0.76],[1704,0.33],[1707,0.05],[1710,-0.38],[1714,-0.23],[1717,0.05],[1720,-0.09],[1723,0.05],[1726,-0.38],[1730,-0.09],[1733,-0.23],[1736,0.05],[1739,-0.52],[1743,0.05],[1746,0.33],[1750,0.61],[1753,0.47],[1756,0.9],[1759,1.32],[1762,2.03],[1765,2.59],[1768,2.95],[1771,2.74],[1774,3.02],[1777,2.59],[1780,2.45],[1784,2.17],[1787,1.89],[1790,1.32],[1792,0.33],[1795,0.05],[1798,0.47],[1802,0.33],[1805,0.9],[1808,0.76],[1811,1.04],[1814,0.9],[1818,1.18],[1821,1.04],[1824,1.32],[1827,1.39],[1830,1.18],[1834,0.9],[1837,0.76],[1840,0.33],[1844,0.05],[1847,-0.38],[1850,-0.09],[1853,-0.52],[1857,-0.8],[1860,-0.8],[1863,-0.94],[1866,-1.22],[1870,-2.07],[1873,-1.08],[1876,-0.8],[1879,-0.52],[1882,-0.09],[1886,0.47],[1889,0.05],[1892,-0.09],[1895,0.19],[1899,0.9],[1902,-0.09],[1905,0.05],[1908,0.19],[1911,0.05],[1915,0.19],[1918,0.05],[1921,0.19],[1924,0.33],[1928,0.19],[1931,-0.09],[1934,-0.38],[1937,-0.66],[1941,-0.52],[1944,-0.23],[1947,-0.09],[1950,-0.38],[1954,-0.66],[1957,-0.38],[1960,-0.09],[1963,0.05],[1967,0.33],[1970,0.61],[1973,0.76],[1976,0.61],[1980,0.76],[1983,0.47],[1986,0.19],[1990,0.33],[1993,-0.52],[1996,0.33],[2000,0.61],[2003,1.04],[2006,0.47],[2009,1.04],[2013,1.89],[2016,1.6],[2019,1.18],[2022,0.61],[2025,0.05],[2029,-0.09],[2032,-0.23],[2035,-0.52],[2039,-0.8],[2042,-0.52],[2045,-1.08],[2048,-0.8],[2052,-0.66],[2055,-0.23],[2058,-0.52],[2061,-0.09],[2064,-0.02],[2066,-0.09],[2070,0.05]];

var seriesG = [[850,-1.08],[852,-1.37],[855,-1.44],[857,-0.8],[860,-0.09],[862,0.61],[866,0.9],[869,1.18],[872,1.32],[874,1.75],[877,1.32],[879,0.9],[882,0.61],[884,0.33],[888,-0.09],[891,-0.94],[894,-0.23],[897,0.05],[901,-0.02],[904,-0.38],[907,-0.23],[910,-0.52],[914,0.05],[917,-0.23],[920,-0.09],[923,-0.38],[927,0.19],[930,0.47],[933,0.61],[936,0.47],[940,0.97],[943,0.76],[946,0.33],[950,0.19],[953,-0.23],[956,-0.52],[959,-0.66],[963,-0.38],[966,-0.09],[969,0.19],[972,0.47],[976,0.61],[979,0.76],[982,0.47],[986,0.05],[989,-0.38],[992,-0.52],[995,-1.22],[998,-0.8],[1002,-0.94],[1005,-0.23],[1008,-0.8],[1012,-1.08],[1015,-1.79],[1018,-1.22],[1022,-0.8],[1025,-0.38],[1028,-0.23],[1031,-0.09],[1035,0.61],[1038,1.11],[1041,1.18],[1044,0.61],[1048,0.9],[1051,0.76],[1054,1.18],[1058,0.9],[1061,0.76],[1064,1.67],[1067,0.76],[1071,1.11],[1074,1.46],[1077,1.6],[1080,1.11],[1084,0.76],[1087,0.47],[1090,0.33],[1093,0.19],[1096,0.47],[1100,0.19],[1103,0.83],[1106,0.61],[1109,0.05],[1113,-0.23],[1116,0.19],[1119,0.33],[1123,0.05],[1126,0.61],[1129,1.04],[1133,0.61],[1136,0.19],[1139,0.47],[1142,0.19],[1146,0.33],[1149,0.05],[1152,-0.59],[1155,0.05],[1158,0.19],[1161,0.33],[1164,0.47],[1168,0.76],[1171,0.47],[1174,0.33],[1177,0.19],[1181,0.19],[1184,-0.66],[1187,-0.8],[1190,-1.37],[1193,-1.58],[1197,-1.08],[1201,-0.23],[1204,-0.09],[1208,0.05],[1211,0.19],[1214,0.61],[1217,0.83],[1220,0.05],[1224,0.33],[1227,0.97],[1229,-0.23],[1231,-2.78],[1234,-3.06],[1237,-3.2],[1240,-3.06],[1243,-3.91],[1246,-4.2],[1250,-4.05],[1253,-4.27],[1256,-4.62],[1259,-3.35],[1261,-1.65],[1263,-1.58],[1267,-1.79],[1270,-1.65],[1273,-1.93],[1276,-1.37],[1280,-1.51],[1283,-1.22],[1286,-0.09],[1290,0.61],[1293,0.76],[1296,0.47],[1299,0.61],[1303,0.33],[1306,0.19],[1309,-0.23],[1312,0.05],[1316,-0.52],[1319,-0.8],[1322,-0.66],[1325,-0.52],[1328,-0.94],[1332,-0.66],[1335,-0.8],[1339,-0.59],[1342,0.05],[1345,0.19],[1348,0.33],[1352,0.26],[1355,0.47],[1358,1.18],[1361,1.11],[1365,0.9],[1368,0.97],[1371,0.61],[1374,0.76],[1377,1.32],[1381,1.04],[1384,1.18],[1387,0.9],[1390,1.04],[1393,1.18],[1397,1.32],[1400,0.9],[1404,0.09],[1407,0.05],[1410,0.61],[1412,1.46],[1416,0.76],[1419,0.61],[1422,0.47],[1424,-1.22],[1427,-1.37],[1430,-0.38],[1433,-0.66],[1436,-1.22],[1439,-1.79],[1442,-2.07],[1445,-2.71],[1447,-2.21],[1450,-1.37],[1453,-0.38],[1456,0.05],[1459,0.33],[1462,0.47],[1466,0.33],[1469,0.19],[1472,-0.66],[1476,0.19],[1479,0.76],[1482,0.97],[1485,0.9],[1488,0.33],[1491,0.61],[1494,0.9],[1498,1.04],[1501,0.76],[1504,0.47],[1508,0.61],[1511,0.19],[1514,0.05],[1517,-0.23],[1520,-0.52],[1524,-0.23],[1527,-0.66],[1530,-1.08],[1534,-0.8],[1537,-0.38],[1540,0.05],[1543,-0.02],[1546,-0.23],[1550,0.05],[1553,0.05],[1556,-0.09],[1560,0.47],[1563,0.9],[1566,0.76],[1570,0.47],[1573,0.33],[1576,0.47],[1580,0.19],[1583,0.05],[1586,0.47],[1589,0.47],[1593,-0.09],[1596,-0.38],[1600,-0.23],[1603,-0.52],[1606,0.76],[1609,0.9],[1612,0.61],[1616,0.33],[1619,-0.09],[1622,-0.23],[1625,0.05],[1629,0.19],[1632,0.05],[1635,-0.23],[1638,-0.52],[1641,-0.23],[1645,-0.38],[1648,-0.66],[1651,-0.8],[1654,-0.23],[1658,-0.09],[1661,0.05],[1664,0.19],[1668,0.05],[1671,0.33],[1674,0.47],[1677,0.19],[1681,0.33],[1684,0.47],[1687,0.76],[1690,1.18],[1694,1.32],[1697,0.61],[1700,-0.38],[1703,-0.66],[1706,-0.8],[1710,-0.94],[1713,-1.22],[1716,-1.51],[1719,-0.8],[1722,-0.66],[1725,-0.38],[1728,-0.8],[1732,-1.08],[1735,-1.65],[1738,-1.51],[1742,-1.93],[1745,-0.94],[1748,-0.23],[1751,-0.8],[1755,-0.38],[1758,-0.66],[1761,-0.09],[1764,0.47],[1768,0.61],[1771,0.9],[1774,1.32],[1777,1.18],[1781,0.76],[1784,0.61],[1787,1.04],[1790,0.61],[1794,0.76],[1797,1.18],[1800,1.46],[1803,1.32],[1806,1.04],[1810,1.32],[1813,1.18],[1816,1.04],[1819,1.32],[1823,1.46],[1826,1.32],[1829,1.6],[1832,1.67],[1835,0.47],[1839,-0.23],[1842,0.05],[1845,-0.23],[1848,-0.09],[1852,0.05],[1855,-0.38],[1858,-0.23],[1862,0.05],[1865,0.19],[1868,0.33],[1871,0.47],[1874,0.33],[1877,0.05],[1881,0.61],[1884,1.04],[1887,0.61],[1890,0.9],[1894,0.19],[1897,0.61],[1900,0.9],[1903,1.18],[1906,0.76],[1909,1.04],[1913,1.32],[1916,1.6],[1920,1.89],[1923,2.17],[1925,2.45],[1928,2.1],[1931,1.6],[1934,1.67],[1937,1.75],[1940,1.32],[1944,0.61],[1947,0.19],[1950,0.05],[1953,-0.38],[1956,-0.8],[1960,-0.94],[1963,-0.8],[1966,-0.66],[1969,-0.23],[1972,0.19],[1975,0.4],[1979,0.05],[1982,-0.09],[1985,-0.23],[1988,-0.09],[1991,-0.38],[1994,0.33],[1998,0.76],[2001,1.18],[2004,1.32],[2008,1.67],[2011,1.32],[2014,1.46],[2017,1.04],[2021,0.9],[2024,0.33],[2027,-0.09],[2030,-0.23],[2033,-0.52],[2037,-0.38],[2040,-0.09],[2043,-0.38],[2046,-0.94],[2050,-0.52],[2053,0.05],[2056,0.47],[2058,0.9],[2061,0.61],[2064,0.33],[2068,0.2]];

// flagged years [start, end] -> red line segments and red dots at y = 2
var flagsA = [[852,867],[892,892],[904,904],[912,982],[1024,1035],[1053,1085],[1098,1098],[1116,1175],[1183,1227],[1270,1270],[1284,1284],[1330,1330],[1367,1404],[1415,1461],[1484,1484],[1544,1566],[1603,1614],[1641,1641],[1652,1652],[1678,1700],[1718,1718],[1728,1728],[1783,1796],[1805,1805],[1820,1840],[1878,1898],[1920,1968],[2007,2007],[2016,2016],[2048,2048]];
var flagsB = [[891,911],[955,955],[1000,1005],[1094,1094],[1172,1172],[1187,1228],[1237,1237],[1266,1266],[1305,1305],[1326,1334],[1370,1382],[1438,1438],[1453,1453],[1464,1464],[1474,1487],[1525,1536],[1567,1567],[1609,1634],[1671,1671],[1704,1720],[1760,1760],[1786,1799],[1816,1822],[1836,1836],[1892,1906],[1916,1931],[2014,2033]];
var flagsC = [[892,892],[901,901],[930,959],[1022,1086],[1167,1178],[1271,1271],[1284,1284],[1368,1382],[1388,1388],[1417,1417],[1481,1525],[1533,1567],[1611,1611],[1618,1618],[1633,1653],[1681,1698],[1717,1717],[1786,1842],[1880,1898],[1921,1935],[1939,1970],[2014,2014]];
var flagsD = [[850,861],[870,901],[961,961],[977,977],[995,995],[1008,1009],[1035,1057],[1075,1102],[1110,1130],[1159,1194],[1228,1228],[1280,1280],[1321,1383],[1398,1398],[1420,1420],[1480,1540],[1551,1584],[1604,1604],[1612,1632],[1649,1661],[1667,1675],[1698,1735],[1788,1796],[1802,1802],[1808,1808],[1821,1866],[1888,1888],[1898,1898],[1906,1906],[1939,1955],[2017,2017],[2045,2070]];
var flagsE = [[875,875],[893,893],[945,945],[953,985],[1083,1089],[1120,1120],[1133,1179],[1187,1236],[1265,1306],[1348,1348],[1388,1388],[1482,1529],[1563,1592],[1676,1676],[1700,1700],[1714,1747],[1754,1780],[1796,1829],[1835,1845],[1855,1855],[1864,1864]];
var flagsF = [[855,855],[869,869],[914,948],[963,969],[1088,1088],[1120,1120],[1134,1147],[1178,1178],[1290,1334],[1365,1371],[1385,1414],[1450,1450],[1499,1499],[1528,1528],[1563,1585],[1592,1592],[1604,1604],[1651,1671],[1698,1806],[1812,1812],[1828,1845],[1855,1855],[1866,1866],[1882,1906],[2000,2029],[2062,2062]];
var flagsG = [[1363,1375],[1487,1487],[1923,1931],[1942,1942]];

var lines = [seriesA, seriesB, seriesC, seriesD, seriesE, seriesF, seriesG];
var flags = [flagsA, flagsB, flagsC, flagsD, flagsE, flagsF, flagsG];

var FONT = '"Liberation Sans", Arial, Helvetica, sans-serif';
var XMIN = 800.6, XMAX = 2070.8, YMIN = -4.76, YMAX = 3.29;
var TOP = 8.3, PANEL_H = 191.2, LEFT = 60, WIDTH = 1158;
var RED = '#ff0000';

var grid = [], xAxis = [], yAxis = [], series = [], visualMap = [], graphic = [];

lines.forEach(function (data, i) {
  var top = TOP + i * PANEL_H;
  grid.push({
    left: LEFT, top: top, width: WIDTH, height: PANEL_H,
    show: true, borderColor: '#000', borderWidth: 1.3, backgroundColor: 'transparent'
  });
  xAxis.push({
    type: 'value', gridIndex: i, position: 'bottom', min: XMIN, max: XMAX,
    axisLine: { show: false, onZero: false },
    splitLine: { show: false },
    axisLabel: { show: false },
    axisTick: { show: true, inside: true, length: 13, customValues: xTicks, lineStyle: { color: '#000', width: 1.3 } }
  });
  yAxis.push({
    type: 'value', gridIndex: i, position: 'left', min: YMIN, max: YMAX,
    axisLine: { show: false, onZero: false },
    splitLine: { show: false },
    axisTick: { show: true, length: 13, customValues: yTicks, lineStyle: { color: '#000', width: 1.3 } },
    axisLabel: {
      customValues: yLabels, rotate: 90, margin: 28,
      fontSize: 20, fontFamily: FONT, color: '#000',
      formatter: function (v) { return String(v).replace('-', '\u2212'); }
    }
  });

  series.push({
    type: 'line', xAxisIndex: i, yAxisIndex: i, data: data,
    showSymbol: false, symbol: 'none', silent: true,
    lineStyle: { width: 1.8 }, z: 3
  });
  var dots = [];
  flags[i].forEach(function (f) {
    for (var yr = f[0]; yr <= f[1]; yr++) dots.push([yr, 2]);
  });
  series.push({
    type: 'scatter', xAxisIndex: i, yAxisIndex: i, data: dots,
    symbolSize: 7, itemStyle: { color: RED }, silent: true, z: 4
  });
  visualMap.push({
    type: 'piecewise', show: false, dimension: 0, seriesIndex: series.length - 2,
    pieces: flags[i].map(function (f) { return { gte: f[0] - 0.5, lte: f[1] + 0.5, color: RED }; }),
    outOfRange: { color: '#000' }
  });

  graphic.push({
    type: 'text', x: 64, y: top + 17,
    style: { text: panelNames[i], font: '21px ' + FONT, fill: '#000', textVerticalAlign: 'middle' }
  });
});

// outer time axis under the last panel
xAxis.push({
  type: 'value', gridIndex: 6, position: 'bottom', min: XMIN, max: XMAX,
  axisLine: { show: false, onZero: false },
  splitLine: { show: false },
  axisTick: { show: true, length: 13, customValues: xTicks, lineStyle: { color: '#000', width: 1.3 } },
  axisLabel: {
    customValues: xLabels, fontSize: 33, fontFamily: FONT, color: '#000', margin: 29,
    formatter: function (v) { return String(v); }
  }
});

graphic.push({
  type: 'text', x: 656, y: 1445.5,
  style: { text: 'Time (years)', font: '33px ' + FONT, fill: '#000', textAlign: 'center', textVerticalAlign: 'middle' }
});

var chart = echarts.init(document.getElementById('chart'), null, { renderer: 'canvas' });
chart.setOption({
  animation: false,
  backgroundColor: '#fff',
  grid: grid,
  xAxis: xAxis,
  yAxis: yAxis,
  visualMap: visualMap,
  series: series,
  graphic: graphic
});
</script>
</body>
</html>
